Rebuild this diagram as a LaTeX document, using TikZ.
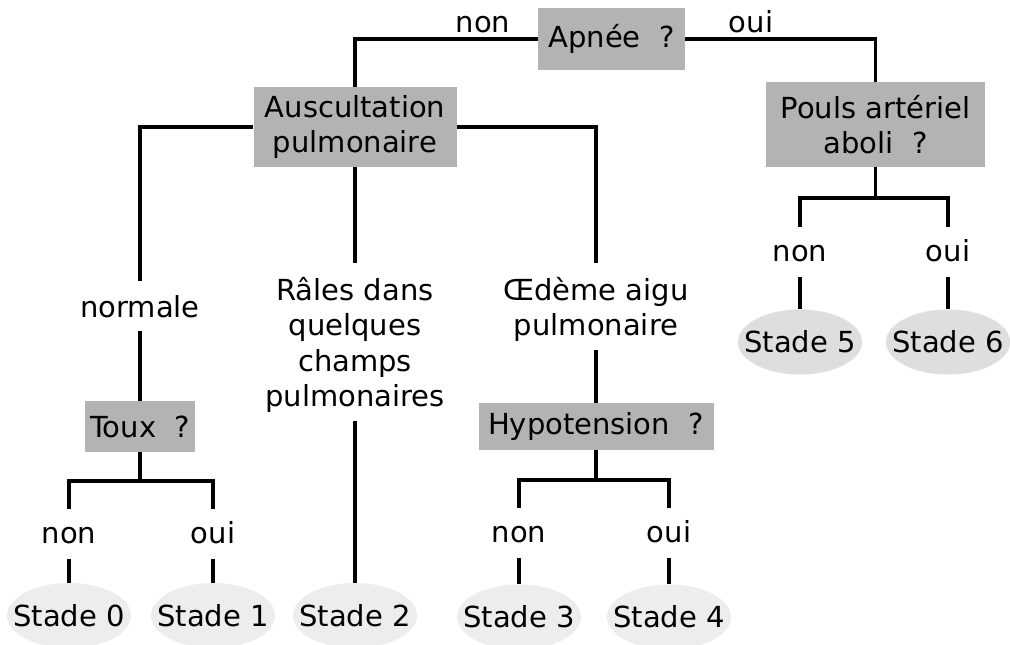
\documentclass[tikz,border=0pt]{standalone}
\usepackage{fontspec}
\setmainfont{DejaVu Sans}
\usetikzlibrary{shapes.geometric}
\definecolor{boxgray}{HTML}{B3B3B3}
\definecolor{ovallight}{HTML}{EDEDED}
\definecolor{ovaldark}{HTML}{DEDEDE}
\begin{document}
\begin{tikzpicture}[x=1pt,y=-1pt,
  every node/.style={font=\fontsize{29}{35.5}\selectfont, text=black},
  qbox/.style={fill=boxgray, inner sep=0pt, align=center},
  stade/.style={ellipse, inner xsep=-20pt, inner ysep=0pt, minimum width=124pt, minimum height=65pt},
  yn/.style={inner xsep=2pt, inner ysep=16pt, text height=18pt, text depth=0pt, anchor=north},
  lbl/.style={inner xsep=2pt, inner ysep=14pt, text depth=0pt, align=center, anchor=north},
  conn/.style={line width=3.5pt}]
\useasboundingbox (0,0) rectangle (1010,645);
\fill[white] (0,0) rectangle (1010,645);
% question boxes
\node[qbox, minimum width=147pt, minimum height=62pt] (apnee) at (611.5,39) {Apnée\ \ ?};
\node[qbox, minimum width=203pt, minimum height=80pt] (ausc) at (355,127) {Auscultation\\pulmonaire};
\node[qbox, minimum width=219pt, minimum height=85pt] (pouls) at (875.5,124.5) {Pouls artériel\\aboli\ \ ?};
\node[qbox, minimum width=110pt, minimum height=51pt] (toux) at (140,426.5) {Toux\ \ ?};
\node[qbox, minimum width=235pt, minimum height=47pt] (hypo) at (596,426.5) {Hypotension\ \ ?};
% top labels
\node[anchor=base] (topnon) at (483,32) {non};
\node[anchor=base] (topoui) at (751,32) {oui};
% intermediate labels
\node[lbl] (normale) at (140,281) {normale};
\node[lbl] (rales) at (355,263) {Râles dans\\quelques\\champs\\pulmonaires};
\node[lbl] (oedeme) at (596,263) {Œdème aigu\\pulmonaire};
\node[yn] (tnon) at (69,509) {non};
\node[yn] (toui) at (213,509) {oui};
\node[yn] (hnon) at (519,508) {non};
\node[yn] (houi) at (669,508) {oui};
\node[yn] (pnon) at (800,227) {non};
\node[yn] (poui) at (948,227) {oui};
% stages
\node[stade, fill=ovallight] (s0) at (69,615.5) {Stade 0};
\node[stade, fill=ovallight] (s1) at (213,615.5) {Stade 1};
\node[stade, fill=ovallight] (s2) at (355,615.5) {Stade 2};
\node[stade, fill=ovallight] (s3) at (519,617) {Stade 3};
\node[stade, fill=ovallight] (s4) at (669,617) {Stade 4};
\node[stade, fill=ovaldark] (s5) at (800,342) {Stade 5};
\node[stade, fill=ovaldark] (s6) at (948,342) {Stade 6};
% junctions
\coordinate (tj) at (140,481);
\coordinate (hj) at (596,480);
\coordinate (pj) at (875.5,198);
% connectors
\draw[conn] (ausc.north) |- (apnee.west);
\draw[conn] (apnee.east) -| (pouls.north);
\draw[conn] (ausc.west) -| (normale.north);
\draw[conn] (ausc.south) -- (rales.north);
\draw[conn] (ausc.east) -| (oedeme.north);
\draw[conn] (normale.south) -- (toux.north);
\draw[conn] (rales.south) -- (s2.north);
\draw[conn] (oedeme.south) -- (hypo.north);
\draw[conn] (toux.south) -- (tj);
\draw[conn] (tnon.north) |- (tj) -| (toui.north);
\draw[conn] (tnon.south) -- (s0.north);
\draw[conn] (toui.south) -- (s1.north);
\draw[conn] (hypo.south) -- (hj);
\draw[conn] (hnon.north) |- (hj) -| (houi.north);
\draw[conn] (hnon.south) -- (s3.north);
\draw[conn] (houi.south) -- (s4.north);
\draw[conn] (pouls.south) -- (pj);
\draw[conn] (pnon.north) |- (pj) -| (poui.north);
\draw[conn] (pnon.south) -- (s5.north);
\draw[conn] (poui.south) -- (s6.north);
\end{tikzpicture}
\end{document}
